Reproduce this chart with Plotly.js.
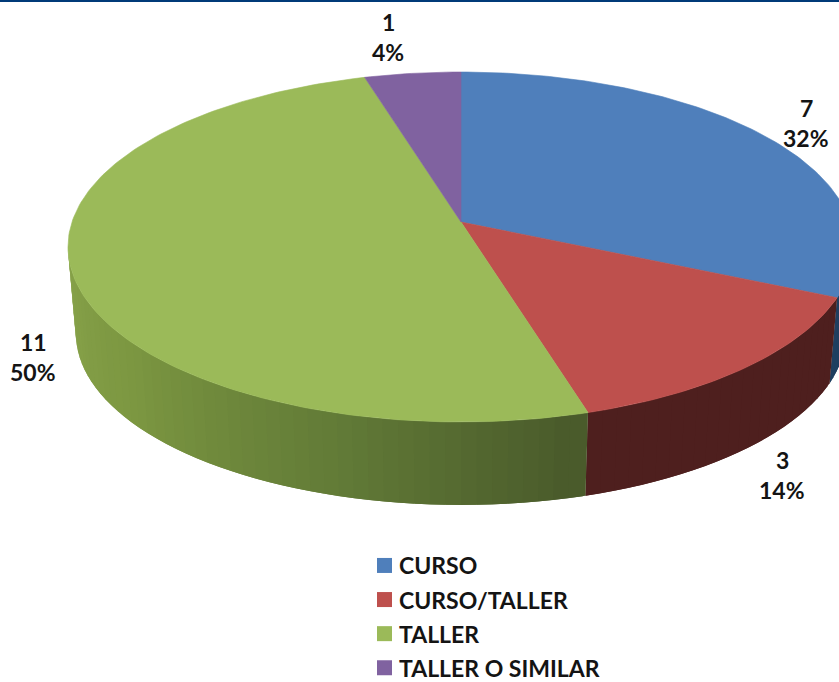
<!DOCTYPE html>
<html>
<head>
<meta charset="utf-8">
<script src="https://cdn.plot.ly/plotly-3.0.1.min.js"></script>
<style>html,body{margin:0;padding:0;background:#fff;overflow:hidden;height:682px}</style>
</head>
<body>
<div id="frame" style="width:839px;height:682px;overflow:hidden"><div id="chart"></div></div>
<script>
// Data
const categories = ["CURSO", "CURSO/TALLER", "TALLER", "TALLER O SIMILAR"];
const values = [7, 3, 11, 1];
const percentLabels = ["32%", "14%", "50%", "4%"];

// Styles
const topColors = ["#4F7FBB", "#BE504D", "#9BBA59", "#8062A0"];
const wallShades = {
  0: [[0, "#1F3F60"], [1, "#1F3F60"]],
  1: [[0, "#4E1F1E"], [1, "#4E1F1E"]],
  2: [[0, "#4A5B2B"], [0.3, "#627B37"], [0.65, "#7C9741"], [1, "#89A44B"]]
};
const textFont = {family: "Lato, 'Open Sans', sans-serif", size: 23, color: "#141414", weight: 700};

// Canvas is a little taller than the window, so that the last legend row,
// which sits at the bottom edge, does not make the legend push the margins.
const W = 839, H = 720;

// Perspective disc: apex, radii, foreshortening, wall depth
const view = {cx: 461, cy: 222, a: 389, b: 171.4, k: 1 / 7, wallY: 309, wallScale: 0.98};
const rad = d => d * Math.PI / 180;
function topPt(deg) {
  const u = Math.sin(rad(deg)), v = Math.cos(rad(deg)), w = 1 + view.k * v;
  return [view.cx + view.a * u / w, view.cy - view.b * v / w];
}
function bottomPt(deg) {
  const u = Math.sin(rad(deg)), v = Math.cos(rad(deg)), w = 1 + view.k * v;
  return [view.cx + view.wallScale * view.a * u / w, view.wallY - view.wallScale * view.b * v / w];
}
function hexToRgb(h) { return [1, 3, 5].map(i => parseInt(h.slice(i, i + 2), 16)); }
function shade(stops, t) {
  for (let i = 1; i < stops.length; i++) {
    if (t <= stops[i][0]) {
      const f = (t - stops[i - 1][0]) / ((stops[i][0] - stops[i - 1][0]) || 1);
      const a = hexToRgb(stops[i - 1][1]), b = hexToRgb(stops[i][1]);
      return "rgb(" + a.map((c, j) => Math.round(c + (b[j] - c) * f)).join(",") + ")";
    }
  }
  return stops[stops.length - 1][1];
}
function poly(pts, color, name, lineWidth) {
  return {
    type: "scatter", mode: "lines", x: pts.map(p => p[0]), y: pts.map(p => p[1]),
    fill: "toself", fillcolor: color, line: {color: color, width: lineWidth},
    hoverinfo: "skip", showlegend: false, name: name
  };
}

const total = values.reduce((a, b) => a + b, 0);
const edges = [0];
values.forEach(v => edges.push(edges[edges.length - 1] + v / total * 360));

const traces = [];
// Visible wall runs between the two tangent angles of the disc.
// Each strip overlaps the next one so that no seam shows between them.
const wallFrom = 98, wallTo = 262;
values.forEach((v, i) => {
  const s = Math.max(edges[i], wallFrom), e = Math.min(edges[i + 1], wallTo);
  if (e <= s || !wallShades[i]) return;
  const step = 2;
  for (let d = e - step; d > s - step; d -= step) {
    const from = Math.max(d, s), to = Math.min(d + step * 2, e);
    const color = shade(wallShades[i], (from - s) / (e - s));
    traces.push(poly([topPt(from), topPt(to), bottomPt(to), bottomPt(from), topPt(from)], color, categories[i] + " wall", 0));
  }
});
// Top faces
values.forEach((v, i) => {
  const pts = [[view.cx, view.cy]];
  for (let d = edges[i]; d < edges[i + 1]; d += 1) pts.push(topPt(d));
  pts.push(topPt(edges[i + 1]), [view.cx, view.cy]);
  traces.push(poly(pts, topColors[i], categories[i], 0.6));
});
// Legend entries
categories.forEach((c, i) => traces.push({
  type: "scatter", mode: "markers", x: [null], y: [null], name: c, legendgroup: c,
  marker: {symbol: "square", size: 15, color: topColors[i]}, showlegend: true, hoverinfo: "skip"
}));

// Label anchors [x, y of count, y of percent]
const labelAnchors = [[806, 108, 138], [782, 460, 490], [33, 342, 372], [388, 22, 52]];
const annotations = [];
values.forEach((v, i) => {
  const a = labelAnchors[i];
  const base = {xref: "x", yref: "y", x: a[0], showarrow: false, xanchor: "center", yanchor: "middle", font: textFont};
  annotations.push(Object.assign({}, base, {y: a[1], text: String(v)}));
  annotations.push(Object.assign({}, base, {y: a[2], text: percentLabels[i]}));
});

const layout = {
  width: W, height: H, margin: {l: 0, r: 0, t: 0, b: 0},
  paper_bgcolor: "#fff", plot_bgcolor: "#fff",
  xaxis: {range: [0, W], visible: false, fixedrange: true},
  yaxis: {range: [H, 0], visible: false, fixedrange: true},
  annotations: annotations,
  shapes: [{type: "rect", xref: "paper", yref: "paper", x0: 0, x1: 1, y0: 1 - 2 / H, y1: 1,
            fillcolor: "#003A78", line: {width: 0}}],
  legend: {
    x: 364 / W, y: 1 - 544 / H, xanchor: "left", yanchor: "top",
    traceorder: "grouped", tracegroupgap: 1.2, indentation: -5, bgcolor: "rgba(0,0,0,0)",
    font: textFont, itemclick: false, itemdoubleclick: false
  },
  showlegend: true
};
Plotly.newPlot("chart", traces, layout, {displayModeBar: false, staticPlot: true}).then(() => {
  // Swatches sit closer to their text than the legend's fixed item width allows.
  document.querySelectorAll(".legendpoints").forEach(g => g.setAttribute("transform", "translate(5.5,0)"));
});
</script>
</body>
</html>
